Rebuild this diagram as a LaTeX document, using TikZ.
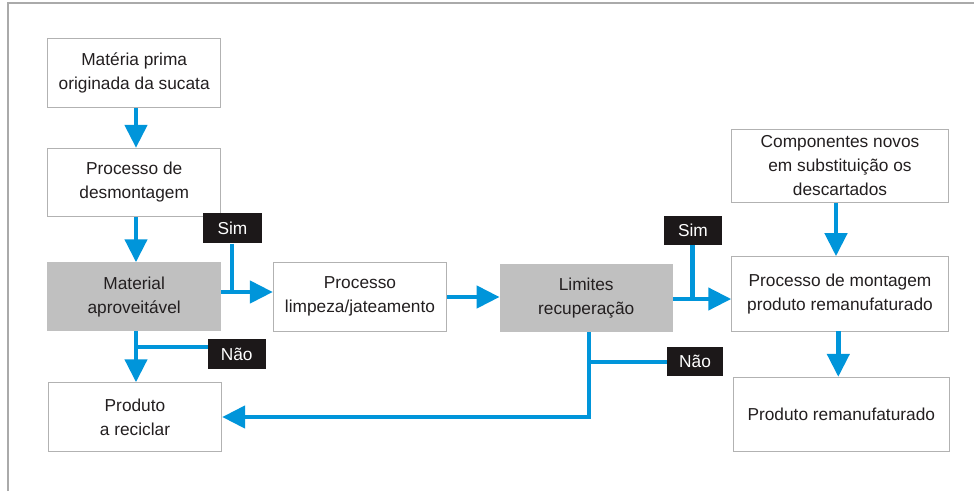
\documentclass[tikz,border=0pt]{standalone}
\usepackage{fontspec}
\setmainfont{Liberation Sans}
\usetikzlibrary{arrows.meta}
\definecolor{flowblue}{RGB}{0,149,218}
\definecolor{boxline}{RGB}{178,178,178}
\definecolor{boxgray}{RGB}{192,192,192}
\definecolor{labelblack}{RGB}{28,24,25}
\definecolor{framegray}{RGB}{170,170,170}
\definecolor{txt}{RGB}{35,31,32}
\begin{document}
\begin{tikzpicture}[x=1pt,y=-1pt,
  box/.style={draw=boxline, line width=0.9pt, fill=white, align=center, text=txt,
    font=\fontsize{17.3}{24}\selectfont, inner sep=0pt},
  graybox/.style={box, fill=boxgray, draw=boxgray},
  tag/.style={fill=labelblack, text=white, font=\fontsize{17.3}{24}\selectfont, inner sep=0pt},
  flow/.style={draw=flowblue, line width=4.5pt},
  arr/.style={flow, -{Triangle[width=22pt,length=23pt]}},
]
\useasboundingbox (0,0) rectangle (974,491);
\draw[framegray, line width=1.2pt] (8,491) -- (8,3) -- (974,3);

% boxes
\node[box, minimum width=173pt, minimum height=69.4pt] (b1) at (134.2,73) {Matéria prima\\originada da sucata};
\node[box, minimum width=173pt, minimum height=68.4pt] (b2) at (134.2,182.5) {Processo de\\desmontagem};
\node[graybox, minimum width=173pt, minimum height=68pt] (b3) at (134.2,296.7) {Material\\aproveitável};
\node[box, minimum width=173.4pt, minimum height=69pt] (b4) at (135,417.2) {Produto\\a reciclar};
\node[box, minimum width=173.4pt, minimum height=68.7pt] (b5) at (360,296.7) {Processo\\limpeza/jateamento};
\node[graybox, minimum width=172.3pt, minimum height=67.7pt] (b6) at (586.2,297.8) {Limites\\recuperação};
\node[box, minimum width=216.6pt, minimum height=73.3pt] (b7) at (840,165.7) {Componentes novos\\em substituição os\\descartados};
\node[box, minimum width=216.6pt, minimum height=74.3pt] (b8) at (840,293.8) {Processo de montagem\\produto remanufaturado};
\node[box, minimum width=216pt, minimum height=74.4pt] (b9) at (841.3,414.5) {Produto remanufaturado};

% tags
\node[tag, minimum width=58.4pt, minimum height=30pt] (s1) at (232.5,228.3) {Sim};
\node[tag, minimum width=58pt, minimum height=29.7pt] (n1) at (236.7,354.2) {Não};
\node[tag, minimum width=57.4pt, minimum height=29.3pt] (s2) at (693,230.3) {Sim};
\node[tag, minimum width=56.6pt, minimum height=29pt] (n2) at (695,361.2) {Não};

% helper coordinates
\coordinate (c1) at (136,0);
\coordinate (j1) at (136,347);
\coordinate (j2) at (232,292);
\coordinate (y3) at (0,297);
\coordinate (j4) at (692.5,299);
\coordinate (j5) at (589,362);
\coordinate (j6) at (589,417);
\coordinate (c7) at (836,0);
\coordinate (c8) at (838.3,0);

% connectors
\draw[arr] (b1.south -| c1) -- (b2.north -| c1);
\draw[arr] (b2.south -| c1) -- (b3.north -| c1);
\draw[arr] (b3.south -| c1) -- (b4.north -| c1);
\draw[flow] (j1) -- (n1.west |- j1);
\draw[flow] (s1.south -| j2) -- (j2);
\draw[arr] (b3.east |- j2) -- (b5.west |- j2);
\draw[arr] (b5.east |- y3) -- (b6.west |- y3);
\draw[flow] (s2.south -| j4) -- (j4);
\draw[arr] (b6.east |- j4) -- (b8.west |- j4);
\draw[flow] (j5) -- (n2.west |- j5);
\draw[arr] (b6.south -| j5) -- (j6) -- (b4.east |- j6);
\draw[arr] (b7.south -| c7) -- (b8.north -| c7);
\draw[arr] (b8.south -| c8) -- (b9.north -| c8);
\end{tikzpicture}
\end{document}
